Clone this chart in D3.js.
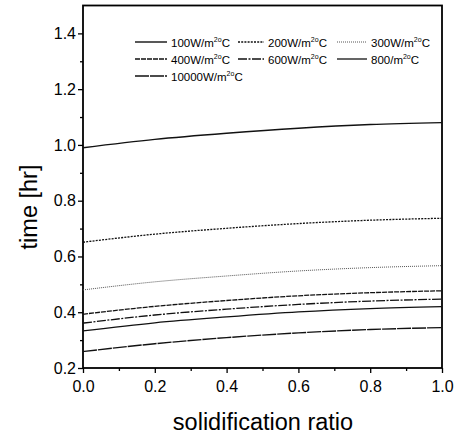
<!DOCTYPE html>
<html>
<head>
<meta charset="utf-8">
<script src="https://cdn.jsdelivr.net/npm/d3@7"></script>
<style>
  body { margin: 0; background: #fff; }
  svg { display: block; font-family: Arial, "Liberation Sans", Helvetica, sans-serif; }
</style>
</head>
<body>
<svg id="chart" width="460" height="437"></svg>
<script>
// ---- data ----
const xValues = [0.0, 0.2, 0.4, 0.6, 0.8, 1.0];
const seriesNames = ["100W/m", "200W/m", "300W/m", "400W/m", "600W/m", "800/m", "10000W/m"];
const s100   = [0.990, 1.020, 1.042, 1.060, 1.073, 1.080];
const s200   = [0.651, 0.680, 0.701, 0.718, 0.730, 0.737];
const s300   = [0.480, 0.509, 0.530, 0.548, 0.560, 0.567];
const s400   = [0.393, 0.421, 0.442, 0.459, 0.470, 0.477];
const s600   = [0.361, 0.390, 0.411, 0.428, 0.440, 0.447];
const s800   = [0.333, 0.362, 0.383, 0.401, 0.413, 0.420];
const s10000 = [0.259, 0.287, 0.309, 0.326, 0.338, 0.345];
const xTicks = [0.0, 0.2, 0.4, 0.6, 0.8, 1.0];
const yTicks = [0.2, 0.4, 0.6, 0.8, 1.0, 1.2, 1.4];
const xTitle = "solidification ratio";
const yTitle = "time [hr]";

const seriesValues = [s100, s200, s300, s400, s600, s800, s10000];
const dashes = [null, "2,1.2", "1,1", "5,1", "9,1.5,2,1.5", null, "14,1"];
const strokeCol = ["#111", "#111", "#555", "#111", "#111", "#111", "#111"];
const strokeW = [1.4, 1.3, 1.0, 1.3, 1.3, 1.3, 1.4];

const svg = d3.select("#chart");
const L = 83, R = 442, T = 5.5, B = 368;
const x = d3.scaleLinear().domain([0, 1]).range([L, R]);
const y = d3.scaleLinear().domain([0.2, 1.5]).range([B, T]);

// axes
const xAxis = d3.axisBottom(x).tickValues(xTicks).tickFormat(d3.format(".1f")).tickSize(5).tickPadding(8);
const yAxis = d3.axisLeft(y).tickValues(yTicks).tickFormat(d3.format(".1f")).tickSize(5).tickPadding(2);
const xMinor = d3.axisBottom(x).tickValues(d3.range(0.1, 1.0, 0.2)).tickFormat("").tickSize(3);
const yMinor = d3.axisLeft(y).tickValues(d3.range(0.3, 1.5, 0.2)).tickFormat("").tickSize(3);

function styleAxis(g) {
  g.select(".domain").remove();
  g.selectAll(".tick line").attr("stroke", "#000").attr("stroke-width", 1.3);
  g.selectAll(".tick text").attr("fill", "#000").style("font-size", "16px");
}
svg.append("g").attr("transform", `translate(0,${B})`).call(xAxis).call(styleAxis);
svg.append("g").attr("transform", `translate(0,${B})`).call(xMinor).call(styleAxis);
svg.append("g").attr("transform", `translate(${L},0)`).call(yAxis).call(styleAxis);
svg.append("g").attr("transform", `translate(${L},0)`).call(yMinor).call(styleAxis);

// frame
svg.append("rect").attr("x", L).attr("y", T).attr("width", R - L).attr("height", B - T)
  .attr("fill", "none").attr("stroke", "#000").attr("stroke-width", 1.8);

// lines
const line = d3.line().x((d, i) => x(xValues[i])).y(d => y(d)).curve(d3.curveMonotoneX);
seriesValues.forEach((vals, k) => {
  svg.append("path").attr("d", line(vals)).attr("fill", "none")
    .attr("stroke", strokeCol[k]).attr("stroke-width", strokeW[k])
    .attr("stroke-dasharray", dashes[k]);
});

// legend
const legCols = [135, 238, 337];
const legRows = [42, 59, 76];
const lineLen = [32, 26, 30];
seriesNames.forEach((name, k) => {
  const col = k % 3, row = Math.floor(k / 3);
  const lx = legCols[col], ly = legRows[row];
  svg.append("line").attr("x1", lx).attr("x2", lx + lineLen[col]).attr("y1", ly).attr("y2", ly)
    .attr("stroke", strokeCol[k]).attr("stroke-width", strokeW[k]).attr("stroke-dasharray", dashes[k]);
  const t = svg.append("text").attr("x", lx + lineLen[col] + 4).attr("y", ly + 4.5)
    .style("font-size", "11.5px").attr("fill", "#000");
  t.append("tspan").text(name);
  t.append("tspan").attr("dy", -5).style("font-size", "7px").text("2o");
  t.append("tspan").attr("dy", 5).text("C");
});

// titles
svg.append("text").attr("x", 263).attr("y", 430).attr("text-anchor", "middle")
  .style("font-size", "23.5px").attr("fill", "#000").text(xTitle);
svg.append("text").attr("transform", `translate(37,207) rotate(-90)`)
  .attr("text-anchor", "middle").style("font-size", "23.5px").attr("fill", "#000").text(yTitle);
</script>
</body>
</html>
